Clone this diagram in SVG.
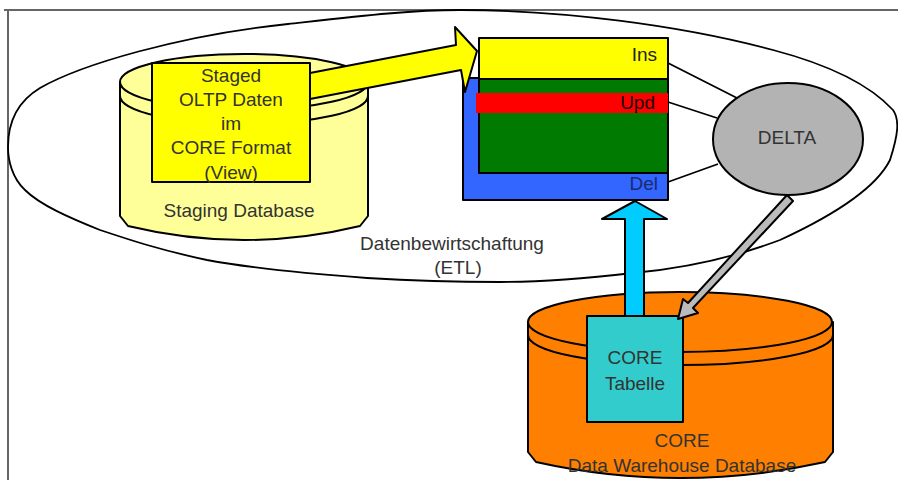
<svg xmlns="http://www.w3.org/2000/svg" width="898" height="480" viewBox="0 0 898 480">
<style>
text{font-family:"Liberation Sans",Arial,sans-serif;font-size:19px;fill:#333;text-anchor:middle}
.o{stroke:#000;stroke-width:2;stroke-linejoin:round}
.thin{stroke:#000;stroke-width:1.8;fill:none}
.r{text-anchor:end;fill:#222}
</style>
<rect width="898" height="480" fill="#fff"/>
<g id="frame" fill="none" stroke="#666" stroke-width="2">
<path d="M4,10 H898 M8,10 V480"/>
</g>
<g id="etl">
<path class="thin" d="M8,147 C8,120 20,100 40,88 C80,65 180,35 288,24 C360,16 410,10 460,10 C560,10 680,25 773,50 C830,65 870,85 893,110 C900,120 898,135 890,160 C875,190 830,217 780,240 C740,255 690,268 633,273 C580,279 540,282 500,282 C440,282 400,280 367,278 C300,273 250,268 207,260 C160,250 130,240 100,230 C70,218 40,205 25,190 C12,178 8,160 8,147 Z"/>
<text x="452" y="250">Datenbewirtschaftung</text>
<text x="458" y="274">(ETL)</text>
</g>
<g id="staging-db">
<path class="o" fill="#FFFF99" d="M120,82 V216 L128,226 Q244,254 360,226 L368,216 V82 Z"/>
<ellipse class="o" fill="#FFFF99" cx="244" cy="82" rx="124" ry="28"/>
<path class="o" fill="none" d="M120,96 A124,28 0 0 0 368,96"/>
<text x="239" y="217">Staging Database</text>
</g>
<g id="staged-view">
<rect class="o" fill="#FFFF00" x="152" y="63" width="158" height="119"/>
<text x="231" y="82">Staged</text>
<text x="231" y="106">OLTP Daten</text>
<text x="231" y="130">im</text>
<text x="231" y="154">CORE Format</text>
<text x="231" y="179">(View)</text>
</g>
<g id="delta-table">
<rect class="o" fill="#3366FF" x="463" y="78" width="205" height="122"/>
<rect class="o" fill="#007A00" x="479" y="78" width="189" height="95"/>
<rect fill="#FF0000" x="476" y="93" width="192" height="20"/>
<rect class="o" fill="#FFFF00" x="479" y="38" width="189" height="41"/>
<text class="r" x="657" y="61">Ins</text>
<text class="r" x="655" y="109" style="fill:#200">Upd</text>
<text class="r" x="658" y="190" style="fill:#1a2a70">Del</text>
</g>
<g id="core-db">
<path class="o" fill="#FF8000" d="M528,322 V452 L536,462 Q680,494 825,462 L833,452 V322 Z"/>
<ellipse class="o" fill="#FF8000" cx="680" cy="322" rx="152" ry="30"/>
<path class="o" fill="none" d="M528,335 A152,30 0 0 0 833,335"/>
<text x="682" y="447">CORE</text>
<text x="682" y="472">Data Warehouse Database</text>
</g>
<g id="core-table">
<rect class="o" fill="#33CCCC" x="587" y="316" width="96" height="106"/>
<text x="635" y="364">CORE</text>
<text x="635" y="390">Tabelle</text>
</g>
<g id="delta">
<ellipse class="o" fill="#B3B3B3" cx="788" cy="139" rx="75" ry="56"/>
<text x="787" y="144">DELTA</text>
</g>
<g id="connectors">
<path class="thin" d="M668,63 L737,98 M668,102 L717,118 M668,182 L718,164"/>
<path class="o" fill="#FFFF00" d="M310,73 L456,45 L455,27 L477,51 L465,92 L461,70 L310,99 Z"/>
<path class="o" fill="#00CCFF" d="M625,316 V219 H602 L635,201 L667,219 H644 V316 Z"/>
<path class="o" fill="#BBBBBB" stroke-width="1.8" d="M787,195 L793,201 L693,308 L698,313 L678,319 L683,299 L688,303 Z"/>
</g>
</svg>
